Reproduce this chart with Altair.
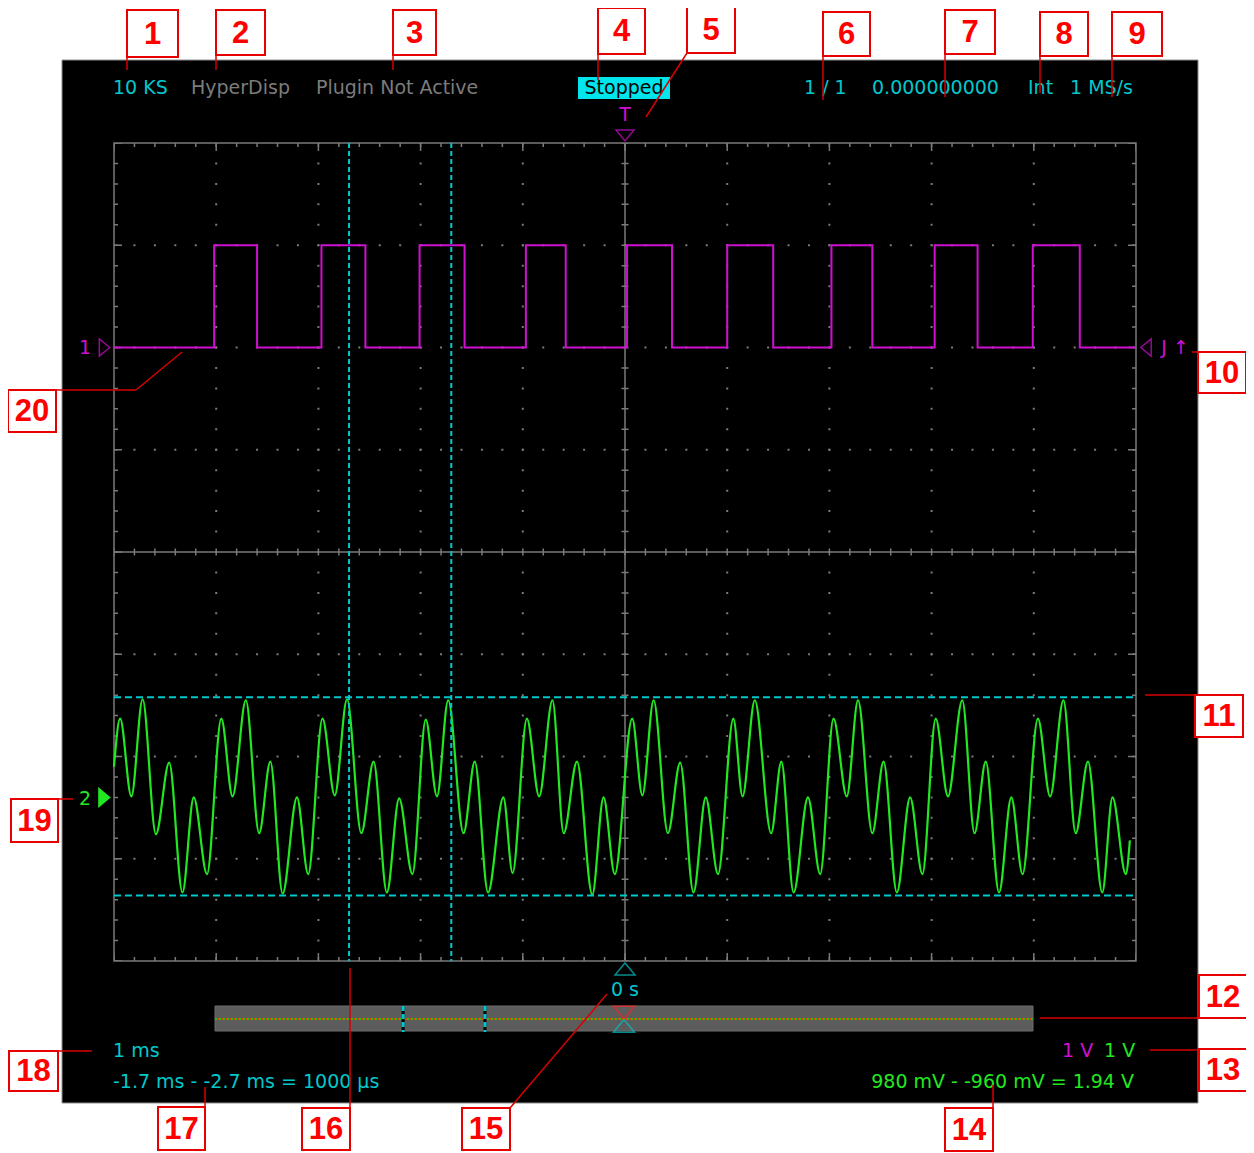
import altair as alt
import pandas as pd

# ---------------- values read from the reference screen ----------------
# channel 1 (magenta): square wave level changes (time in ms, level in V)
ch1_t = [-5.00, -4.02, -3.60, -2.97, -2.54, -2.01, -1.57, -0.97, -0.58, 0.02,
         0.46, 1.00, 1.45, 2.02, 2.42, 3.03, 3.45, 3.99, 4.45, 5.00]
ch1_v = [0, 1, 0, 1, 0, 1, 0, 1, 0, 1, 0, 1, 0, 1, 0, 1, 0, 1, 0, 0]

# channel 2 (green): turning points of the trace (time in ms, volts)
ch2_t = [-5.00, -4.94, -4.83, -4.72, -4.59, -4.46, -4.33, -4.22, -4.09,
         -3.95, -3.84, -3.71, -3.58, -3.47, -3.35, -3.21, -3.10,
         -2.96, -2.84, -2.72, -2.58, -2.46, -2.33, -2.21, -2.08,
         -1.95, -1.84, -1.73, -1.58, -1.47, -1.34, -1.19, -1.10,
         -0.96, -0.84, -0.71, -0.60, -0.47, -0.32, -0.21, -0.10,
         0.07, 0.17, 0.28, 0.42, 0.54, 0.67, 0.79, 0.91,
         1.06, 1.15, 1.27, 1.43, 1.53, 1.65, 1.79, 1.91,
         2.04, 2.17, 2.28, 2.42, 2.53, 2.66, 2.79, 2.91,
         3.04, 3.16, 3.30, 3.42, 3.53, 3.66, 3.78, 3.89,
         4.04, 4.16, 4.29, 4.41, 4.53, 4.67, 4.77, 4.90, 4.94]
ch2_v = [0.30, 0.77, 0.01, 0.96, -0.36, 0.34, -0.93, 0.00, -0.75,
         0.77, 0.01, 0.95, -0.35, 0.35, -0.94, 0.00, -0.75,
         0.77, 0.02, 0.96, -0.35, 0.35, -0.93, -0.01, -0.75,
         0.76, 0.01, 0.95, -0.35, 0.35, -0.93, 0.00, -0.74,
         0.77, 0.01, 0.95, -0.35, 0.35, -0.95, 0.00, -0.75,
         0.77, 0.02, 0.95, -0.35, 0.34, -0.93, 0.00, -0.75,
         0.77, 0.01, 0.95, -0.35, 0.35, -0.93, 0.00, -0.75,
         0.77, 0.01, 0.95, -0.35, 0.35, -0.93, 0.00, -0.75,
         0.77, 0.01, 0.95, -0.35, 0.35, -0.93, 0.00, -0.75,
         0.77, 0.01, 0.95, -0.35, 0.35, -0.93, 0.00, -0.75, -0.42]

cursor_t = [-2.7, -1.7]      # time cursors, ms
cursor_v = [0.98, -0.96]     # voltage cursors on channel 2, V

top_left_labels = ["10 KS", "HyperDisp", "Plugin Not Active"]
status_label = "Stopped"
top_right_labels = ["1 / 1", "0.000000000", "Int", "1 MS/s"]
time_base_label = "1 ms"
volt_labels = ["1 V", "1 V"]
trigger_pos_label = "0 s"
annotation_numbers = [str(i) for i in range(1, 21)]

time_readout = (f"{cursor_t[1]:g} ms - {cursor_t[0]:g} ms = "
                f"{round((cursor_t[1] - cursor_t[0]) * 1000):.0f} µs")
volt_readout = (f"{cursor_v[0] * 1000:.0f} mV - {cursor_v[1] * 1000:.0f} mV = "
                f"{cursor_v[0] - cursor_v[1]:.2f} V")

# ---------------- geometry / styles ----------------
W, H = 1022, 818          # graticule (10 x 8 divisions)
GX, GY = 114, 143         # page position of the graticule corner


def px(X):
    return X - GX


def py(Y):
    return Y - GY


MAG = "#d010d0"
GREEN = "#22e822"
CYAN = "#00c8cc"
GRAYTXT = "#7c7c7c"
GRID = "#7a7a7a"
RED = "#e80000"
FONT = "DejaVu Sans"
FS = 19

xs = alt.Scale(domain=[-5, 5], nice=False, zero=False)
ys_div = alt.Scale(domain=[0, 8], nice=False, zero=False)
ys_ch1 = alt.Scale(domain=[-6, 2], nice=False, zero=False)
ys_ch2 = alt.Scale(domain=[-1.6, 6.4], nice=False, zero=False)
bar_xs = alt.Scale(domain=[-5, 5], range=[px(215), px(1033)], nice=False, zero=False)

one = pd.DataFrame({"k": [0]})
layers = []

# screen background
layers.append(alt.Chart(one).mark_rect(fill="black", stroke="#8e8e8e", strokeWidth=1).encode(
    x=alt.value(px(62)), x2=alt.value(px(1198)), y=alt.value(py(60)), y2=alt.value(py(1103))))

# dotted division lines
layers.append(alt.Chart(pd.DataFrame({"t": [-4, -3, -2, -1, 1, 2, 3, 4]})).mark_rule(
    color=GRID, strokeWidth=2, strokeDash=[2, H / 40 - 2], strokeDashOffset=1).encode(
    x=alt.X("t:Q", scale=xs, axis=None), y=alt.value(0), y2=alt.value(H)))
layers.append(alt.Chart(pd.DataFrame({"d": [1, 2, 3, 5, 6, 7]})).mark_rule(
    color=GRID, strokeWidth=2, strokeDash=[2, W / 50 - 2], strokeDashOffset=1).encode(
    y=alt.Y("d:Q", scale=ys_div, axis=None), x=alt.value(0), x2=alt.value(W)))

# centre cross with small ticks
for sw, dash in [(1.5, None), (7, [1.5, H / 40 - 1.5])]:
    kw = dict(color=GRID, strokeWidth=sw)
    if dash:
        kw.update(strokeDash=dash, strokeDashOffset=0.75)
    layers.append(alt.Chart(pd.DataFrame({"t": [0]})).mark_rule(**kw).encode(
        x=alt.X("t:Q", scale=xs, axis=None), y=alt.value(0), y2=alt.value(H)))
for sw, dash in [(1.5, None), (7, [1.5, W / 50 - 1.5])]:
    kw = dict(color=GRID, strokeWidth=sw)
    if dash:
        kw.update(strokeDash=dash, strokeDashOffset=0.75)
    layers.append(alt.Chart(pd.DataFrame({"d": [4]})).mark_rule(**kw).encode(
        y=alt.Y("d:Q", scale=ys_div, axis=None), x=alt.value(0), x2=alt.value(W)))

# border ticks (inward)
for length, step_v, step_h in [(4, H / 40, W / 50), (8, H / 8, W / 10)]:
    half = length / 2
    for t, off in [(-5, half), (5, -half)]:
        layers.append(alt.Chart(pd.DataFrame({"t": [t]})).mark_rule(
            color=GRID, strokeWidth=length, strokeDash=[1.5, step_v - 1.5],
            strokeDashOffset=0.75, xOffset=off).encode(
            x=alt.X("t:Q", scale=xs, axis=None), y=alt.value(0), y2=alt.value(H)))
    for d, off in [(8, half), (0, -half)]:
        layers.append(alt.Chart(pd.DataFrame({"d": [d]})).mark_rule(
            color=GRID, strokeWidth=length, strokeDash=[1.5, step_h - 1.5],
            strokeDashOffset=0.75, yOffset=off).encode(
            y=alt.Y("d:Q", scale=ys_div, axis=None), x=alt.value(0), x2=alt.value(W)))

# graticule border
layers.append(alt.Chart(one).mark_rect(fillOpacity=0, stroke=GRID, strokeWidth=1.5).encode(
    x=alt.value(0), x2=alt.value(W), y=alt.value(0), y2=alt.value(H)))

# channel traces
layers.append(alt.Chart(pd.DataFrame({"t": ch1_t, "v": ch1_v})).mark_line(
    interpolate="step-after", color=MAG, strokeWidth=2).encode(
    x=alt.X("t:Q", scale=xs, axis=None), y=alt.Y("v:Q", scale=ys_ch1, axis=None)))
layers.append(alt.Chart(pd.DataFrame({"t": ch2_t, "v": ch2_v})).mark_line(
    interpolate="monotone", color=GREEN, strokeWidth=2.2).encode(
    x=alt.X("t:Q", scale=xs, axis=None), y=alt.Y("v:Q", scale=ys_ch2, axis=None)))

# cursors
layers.append(alt.Chart(pd.DataFrame({"t": cursor_t})).mark_rule(
    color=CYAN, strokeWidth=2, strokeDash=[5, 3]).encode(
    x=alt.X("t:Q", scale=xs, axis=None), y=alt.value(0), y2=alt.value(H)))
layers.append(alt.Chart(pd.DataFrame({"v": cursor_v})).mark_rule(
    color=CYAN, strokeWidth=2, strokeDash=[7, 4]).encode(
    y=alt.Y("v:Q", scale=ys_ch2, axis=None), x=alt.value(0), x2=alt.value(W)))

# markers (triangles)
TRI_R = "M-0.6,-1L0.6,0L-0.6,1Z"
TRI_L = "M0.6,-1L-0.6,0L0.6,1Z"
TRI_D = "M-1,-0.6L1,-0.6L0,0.6Z"
TRI_U = "M-1,0.6L1,0.6L0,-0.6Z"
zero = pd.DataFrame({"v": [0.0], "t": [0.0]})
layers.append(alt.Chart(zero).mark_point(shape=TRI_R, size=300, filled=False, color=MAG, strokeWidth=1.5).encode(
    x=alt.value(px(104.5)), y=alt.Y("v:Q", scale=ys_ch1, axis=None)))
layers.append(alt.Chart(zero).mark_point(shape=TRI_L, size=300, filled=False, color=MAG, strokeWidth=1.5).encode(
    x=alt.value(px(1146)), y=alt.Y("v:Q", scale=ys_ch1, axis=None)))
layers.append(alt.Chart(zero).mark_point(shape=TRI_R, size=440, filled=True, color=GREEN, opacity=1).encode(
    x=alt.value(px(104.5)), y=alt.Y("v:Q", scale=ys_ch2, axis=None)))
layers.append(alt.Chart(zero).mark_point(shape=TRI_D, size=324, filled=False, color=MAG, strokeWidth=1.5).encode(
    x=alt.X("t:Q", scale=xs, axis=None), y=alt.value(py(135.5))))
layers.append(alt.Chart(zero).mark_point(shape=TRI_U, size=400, filled=False, color=CYAN, strokeWidth=1.5).encode(
    x=alt.X("t:Q", scale=xs, axis=None), y=alt.value(py(969))))

# record bar
layers.append(alt.Chart(one).mark_rect(fill="#5c5c5c", stroke="#6c6c6c", strokeWidth=1).encode(
    x=alt.value(px(215)), x2=alt.value(px(1033)), y=alt.value(py(1006)), y2=alt.value(py(1031))))
layers.append(alt.Chart(one).mark_rule(color="#e04000", strokeWidth=2).encode(
    x=alt.value(px(215)), x2=alt.value(px(1033)), y=alt.value(py(1019))))
layers.append(alt.Chart(one).mark_rule(color="#20c020", strokeWidth=2, strokeDash=[2, 2]).encode(
    x=alt.value(px(215)), x2=alt.value(px(1033)), y=alt.value(py(1019))))
layers.append(alt.Chart(pd.DataFrame({"t": cursor_t})).mark_rule(color="black", strokeWidth=3).encode(
    x=alt.X("t:Q", scale=bar_xs, axis=None), y=alt.value(py(1006)), y2=alt.value(py(1032))))
layers.append(alt.Chart(pd.DataFrame({"t": cursor_t})).mark_rule(color=CYAN, strokeWidth=3, strokeDash=[5, 3]).encode(
    x=alt.X("t:Q", scale=bar_xs, axis=None), y=alt.value(py(1006)), y2=alt.value(py(1032))))
layers.append(alt.Chart(zero).mark_point(shape=TRI_D, size=450, filled=False, color="#ff2020", strokeWidth=1.5).encode(
    x=alt.X("t:Q", scale=bar_xs, axis=None), y=alt.value(py(1012.5))))
layers.append(alt.Chart(zero).mark_point(shape=TRI_U, size=450, filled=False, color=CYAN, strokeWidth=1.5).encode(
    x=alt.X("t:Q", scale=bar_xs, axis=None), y=alt.value(py(1026))))

# "Stopped" highlight
layers.append(alt.Chart(one).mark_rect(fill="#00e4ec").encode(
    x=alt.value(px(578)), x2=alt.value(px(670)), y=alt.value(py(77)), y2=alt.value(py(99))))

# screen texts
texts_left = pd.DataFrame({
    "text": top_left_labels + top_right_labels + [time_base_label, time_readout] + volt_labels,
    "x": [px(113), px(191), px(316), px(804), px(872), px(1028), px(1070), px(113), px(113), px(1062), px(1104)],
    "y": [py(88)] * 7 + [py(1051), py(1082), py(1051), py(1051)],
    "c": [CYAN, GRAYTXT, GRAYTXT, CYAN, CYAN, CYAN, CYAN, CYAN, CYAN, MAG, GREEN],
})
texts_center = pd.DataFrame({
    "text": [status_label, "T", "1", "2", "J", "↑", trigger_pos_label],
    "x": [px(624), px(625), px(85), px(85), px(1164), px(1181), px(625)],
    "y": [py(88), py(115), py(348), py(799), py(348), py(348), py(990)],
    "c": ["black", MAG, MAG, GREEN, MAG, MAG, CYAN],
})
texts_right = pd.DataFrame({"text": [volt_readout], "x": [px(1134)], "y": [py(1082)], "c": [GREEN]})
for df, al in [(texts_left, "left"), (texts_center, "center"), (texts_right, "right")]:
    layers.append(alt.Chart(df).mark_text(align=al, baseline="middle", font=FONT, fontSize=FS).encode(
        x=alt.X("x:Q", scale=None), y=alt.Y("y:Q", scale=None),
        color=alt.Color("c:N", scale=None), text="text:N"))

# ---------------- numbered callouts ----------------
boxes = [(127, 10, 178, 57), (216, 10, 265, 55), (393, 10, 436, 55), (598, 8, 645, 54),
         (687, 7, 735, 53), (823, 12, 870, 56), (945, 10, 995, 54), (1040, 12, 1088, 56),
         (1112, 12, 1162, 56), (1198, 352, 1246, 393), (1195, 695, 1243, 737),
         (1199, 975, 1247, 1018), (1199, 1049, 1247, 1091), (945, 1108, 993, 1151),
         (462, 1108, 510, 1150), (302, 1108, 350, 1150), (158, 1107, 205, 1150),
         (9, 1051, 58, 1091), (11, 799, 58, 842), (8, 390, 56, 432)]
leaders = [(127, 57, 127, 70), (216, 55, 216, 70), (393, 55, 393, 70), (598, 54, 598, 80),
           (687, 53, 646, 117), (823, 56, 823, 100), (945, 54, 945, 97), (1040, 56, 1040, 93),
           (1112, 56, 1112, 97), (1192, 352, 1198, 352), (1145, 695, 1195, 695),
           (1040, 1018, 1199, 1018), (1150, 1050, 1199, 1050), (993, 1085, 993, 1108),
           (510, 1108, 607, 994), (350, 968, 350, 1108), (205, 1087, 205, 1107),
           (58, 1051, 92, 1051), (58, 799, 73, 799), (56, 390, 136, 390), (136, 390, 182, 352)]

lead_df = pd.DataFrame([{"x": px(a), "y": py(b), "x2": px(c), "y2": py(d)} for a, b, c, d in leaders])
layers.append(alt.Chart(lead_df).mark_rule(color="#d80000", strokeWidth=1.5).encode(
    x=alt.X("x:Q", scale=None), y=alt.Y("y:Q", scale=None), x2="x2:Q", y2="y2:Q"))

box_df = pd.DataFrame([{"x": px(a), "y": py(b), "x2": px(c), "y2": py(d),
                        "cx": px((a + c) / 2), "cy": py((b + d) / 2 + 1), "n": n}
                       for (a, b, c, d), n in zip(boxes, annotation_numbers)])
layers.append(alt.Chart(box_df).mark_rect(fill="white", stroke=RED, strokeWidth=2).encode(
    x=alt.X("x:Q", scale=None), y=alt.Y("y:Q", scale=None), x2="x2:Q", y2="y2:Q"))
layers.append(alt.Chart(box_df).mark_text(font="Liberation Sans", fontWeight="bold", fontSize=31,
                                          color="#ff0000", align="center", baseline="middle").encode(
    x=alt.X("cx:Q", scale=None), y=alt.Y("cy:Q", scale=None), text="n:N"))

chart = alt.layer(*layers).resolve_scale(
    x="independent", y="independent", color="independent"
).properties(
    width=W, height=H,
    padding={"left": GX - 8, "top": GY - 8, "right": 110, "bottom": 192},
    autosize=alt.AutoSizeParams(type="none"),
    background="white",
).configure_view(strokeWidth=0)

chart.save("out.html", embed_options={"renderer": "svg", "actions": False})
